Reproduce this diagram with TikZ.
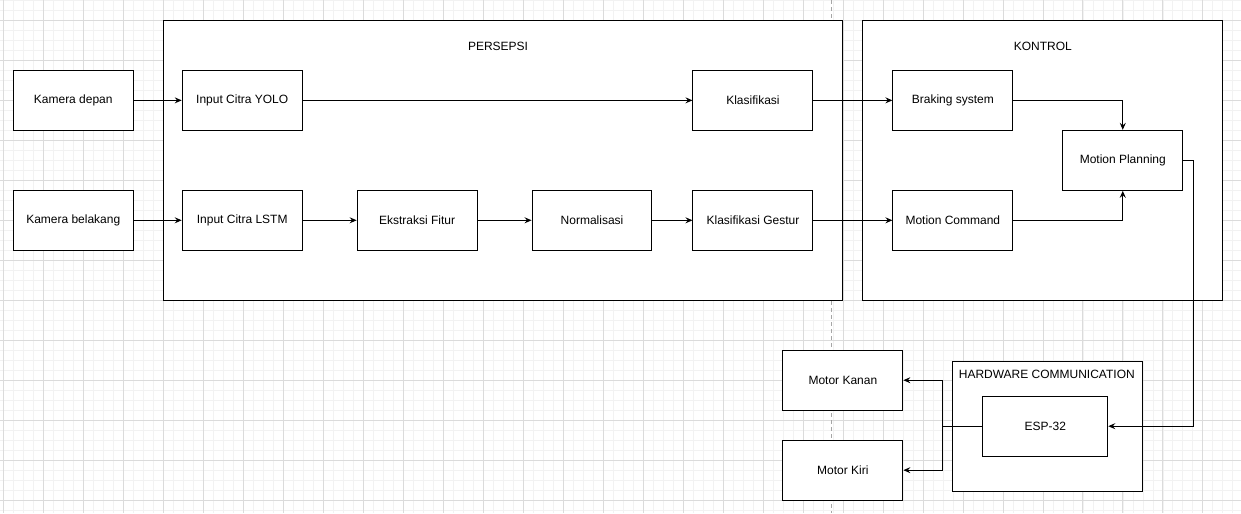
\documentclass[tikz,border=0pt]{standalone}
\usepackage{fontspec}
\setmainfont{Liberation Sans}
\usetikzlibrary{arrows.meta}

\begin{document}
\begin{tikzpicture}[x=1pt, y=-1pt, line width=1pt,
    every node/.style={font=\fontsize{12}{14}\selectfont},
    blok/.style={draw, fill=white, minimum width=120pt, minimum height=60pt, inner sep=0pt},
    wadah/.style={draw, fill=white, inner sep=0pt},
    panah/.style={-{Stealth[length=7pt, width=6pt, inset=2.5pt]}}]
        % grid
        \fill[white] (0,0) rectangle (1241,513);
        \foreach \x in {3,13,...,1241} \draw[line width=0.5pt, black!5] (\x,0) -- (\x,513);
        \foreach \y in {0,10,...,513} \draw[line width=0.5pt, black!5] (0,\y) -- (1241,\y);
        \foreach \x in {3,43,...,1241} \draw[line width=0.6pt, black!14] (\x,0) -- (\x,513);
        \foreach \y in {20,60,...,513} \draw[line width=0.6pt, black!14] (0,\y) -- (1241,\y);
        \draw[dashed, dash pattern=on 4pt off 3pt, black!35, line width=0.8pt] (831,0) -- (831,513);
        \useasboundingbox (0,0) rectangle (1241,513);
        % containers
        \node[wadah, minimum width=680pt, minimum height=280pt] (persepsi) at (503,160) {};
        \node (lblpersepsi) at (498,46) {PERSEPSI};
        \node[wadah, minimum width=360pt, minimum height=280pt] (kontrol) at (1043,160) {};
        \node (lblkontrol) at (1043,46) {KONTROL};
        \node[wadah, minimum width=190pt, minimum height=130pt] (hardware) at (1048,426) {};
        \node (lblhardware) at (1047,374) {HARDWARE COMMUNICATION};
        % blocks
        \node[blok] (kamdepan) at (73,100) {Kamera depan};
        \node[blok] (kambelakang) at (73,220) {Kamera belakang};
        \node[blok] (yolo) at (242,100) {Input Citra YOLO};
        \node[blok] (lstm) at (242,220) {Input Citra LSTM};
        \node[blok] (fitur) at (417,220) {Ekstraksi Fitur};
        \node[blok] (normal) at (592,220) {Normalisasi};
        \node[blok] (klas) at (753,100) {Klasifikasi};
        \node[blok] (gestur) at (753,220) {Klasifikasi Gestur};
        \node[blok] (braking) at (953,100) {Braking system};
        \node[blok] (command) at (953,220) {Motion Command};
        \node[blok] (planning) at (1123,160) {Motion Planning};
        \node[blok, minimum width=125pt] (esp) at (1045.5,426) {ESP-32};
        \node[blok] (kanan) at (843,380) {Motor Kanan};
        \node[blok] (kiri) at (843,470) {Motor Kiri};
        \coordinate (cabang) at (943,426);
        % arrows
        \draw[panah] (kamdepan) -- (yolo);
        \draw[panah] (yolo) -- (klas);
        \draw[panah] (klas) -- (braking);
        \draw[panah] (kambelakang) -- (lstm);
        \draw[panah] (lstm) -- (fitur);
        \draw[panah] (fitur) -- (normal);
        \draw[panah] (normal) -- (gestur);
        \draw[panah] (gestur) -- (command);
        \draw[panah] (braking.east) -| (planning.north);
        \draw[panah] (command.east) -| (planning.south);
        \draw[panah] (planning.east) -- ++(10,0) |- (esp.east);
        \draw (esp.west) -- (cabang);
        \draw[panah] (cabang) |- (kanan.east);
        \draw[panah] (cabang) |- (kiri.east);
      \end{tikzpicture}
\end{document}
